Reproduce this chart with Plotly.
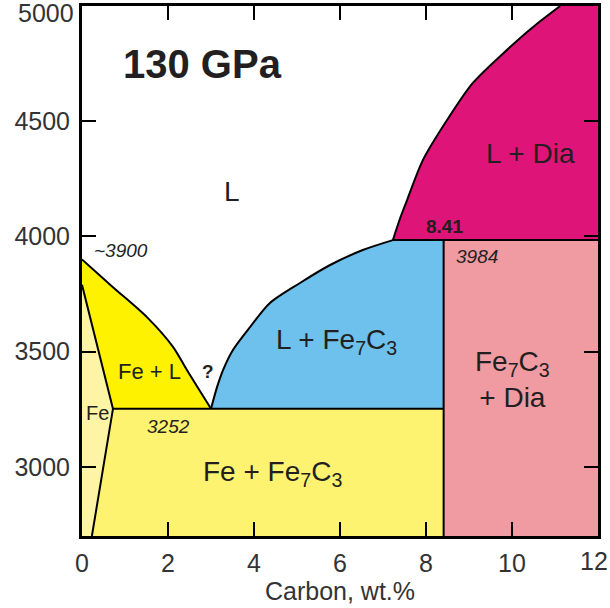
import plotly.graph_objects as go

# --- phase-diagram values (Fe–C at 130 GPa) ---
T_MELT_FE = 3900          # melting point of pure Fe, K
T_EUTECTIC = 3252         # Fe–Fe7C3 eutectic, K
X_EUTECTIC = 3.0          # eutectic composition, wt.% C
T_PERITECTIC = 3984       # Fe7C3 incongruent melting, K
X_FE7C3 = 8.41            # Fe7C3 composition, wt.% C
X_MAX_FE = 0.72           # max C solubility in solid Fe at eutectic, wt.%
T_SOLIDUS_FE0 = 3790      # solidus temperature at pure Fe end, K
X_FE_BOTTOM = 0.23        # C solubility in Fe at the lowest temperature, wt.%

X_RANGE = [0, 12]
T_RANGE = [2700, 5000]

# Liquidus on the Fe-rich side (L / Fe + L)
liq_fe_x = [0.0, 0.72, 1.51, 2.12, 2.44, X_EUTECTIC]
liq_fe_t = [T_MELT_FE, 3780, 3650, 3520, 3420, T_EUTECTIC]

# Liquidus of Fe7C3 (L / L + Fe7C3)
liq_c_x = [X_EUTECTIC, 3.14, 3.28, 3.51, 3.91, 4.37, 5.07, 5.77, 6.53, 7.23]
liq_c_t = [T_EUTECTIC, 3346, 3420, 3507, 3607, 3711, 3798, 3876, 3941, T_PERITECTIC]

# Liquidus of diamond (L / L + Dia)
liq_dia_x = [7.23, 7.40, 7.56, 7.93, 8.49, 9.09, 9.88, 10.49, 11.12]
liq_dia_t = [T_PERITECTIC, 4080, 4158, 4332, 4505, 4666, 4809, 4909, 5000]

x_ticks = [0, 2, 4, 6, 8, 10, 12]
t_ticks = [3000, 3500, 4000, 4500, 5000]

# Field colours
C_FE = "#FEF4A6"
C_FE_L = "#FFF200"
C_FE_FE7C3 = "#FEF371"
C_L_FE7C3 = "#6DC1EC"
C_FE7C3_DIA = "#EF9BA1"
C_L_DIA = "#DF1479"

INK = "#231F20"
TICK_INK = "#333333"
LINE = dict(color="black", width=2)

x0, x1 = X_RANGE
t0, t1 = T_RANGE

fields = [
    # Fe (solid solution)
    ([x0, X_FE_BOTTOM, X_MAX_FE, x0],
     [t0, t0, T_EUTECTIC, T_SOLIDUS_FE0], C_FE),
    # Fe + L
    ([x0, X_MAX_FE] + liq_fe_x[::-1],
     [T_SOLIDUS_FE0, T_EUTECTIC] + liq_fe_t[::-1], C_FE_L),
    # Fe + Fe7C3
    ([X_FE_BOTTOM, X_FE7C3, X_FE7C3, X_MAX_FE],
     [t0, t0, T_EUTECTIC, T_EUTECTIC], C_FE_FE7C3),
    # L + Fe7C3
    (liq_c_x + [X_FE7C3, X_FE7C3],
     liq_c_t + [T_PERITECTIC, T_EUTECTIC], C_L_FE7C3),
    # Fe7C3 + Dia
    ([X_FE7C3, x1, x1, X_FE7C3],
     [t0, t0, T_PERITECTIC, T_PERITECTIC], C_FE7C3_DIA),
    # L + Dia
    (liq_dia_x + [x1, x1],
     liq_dia_t + [t1, T_PERITECTIC], C_L_DIA),
]

fig = go.Figure()
for xs, ts, col in fields:
    fig.add_trace(go.Scatter(
        x=xs + [xs[0]], y=ts + [ts[0]], mode="lines", fill="toself",
        fillcolor=col, line=dict(width=0), hoverinfo="skip", showlegend=False))

# Phase boundaries: smooth liquidus curves and straight solid-state lines
curves = [(liq_fe_x, liq_fe_t), (liq_c_x, liq_c_t), (liq_dia_x, liq_dia_t)]
for xs, ts in curves:
    fig.add_trace(go.Scatter(
        x=xs, y=ts, mode="lines", line=dict(LINE, shape="spline", smoothing=0.8),
        hoverinfo="skip", showlegend=False))

straight = [
    ([x0, X_MAX_FE, X_FE_BOTTOM], [T_SOLIDUS_FE0, T_EUTECTIC, t0]),
    ([X_MAX_FE, X_FE7C3], [T_EUTECTIC, T_EUTECTIC]),
    ([X_FE7C3, X_FE7C3], [t0, T_PERITECTIC]),
    ([liq_c_x[-1], x1], [T_PERITECTIC, T_PERITECTIC]),
]
for xs, ts in straight:
    fig.add_trace(go.Scatter(
        x=xs, y=ts, mode="lines", line=LINE,
        hoverinfo="skip", showlegend=False))

FONT = "Liberation Sans, Arial, sans-serif"


def label(x, y, text, size, bold=False, italic=False):
    if bold:
        text = f"<b>{text}</b>"
    if italic:
        text = f"<i>{text}</i>"
    fig.add_annotation(x=x, y=y, text=text, showarrow=False,
                       xanchor="center", yanchor="middle",
                       font=dict(family=FONT, size=size, color=INK))


label(2.81, 4748, "130 GPa", 40, bold=True)
label(3.49, 4197, "L", 28)
label(10.44, 4358, "L + Dia", 28)
label(8.44, 4045, f"{X_FE7C3}", 19, bold=True)
label(9.19, 3911, f"{T_PERITECTIC}", 19, italic=True)
label(0.91, 3937, f"~{T_MELT_FE}", 19, italic=True)
label(1.56, 3416, "Fe + L", 22)
label(2.93, 3416, "?", 19, bold=True)
label(0.37, 3234, "Fe", 20)
label(2.0, 3177, f"{T_EUTECTIC}", 19, italic=True)
label(5.93, 3545, "L + Fe<sub>7</sub>C<sub>3</sub>", 28)
label(4.42, 2972, "Fe + Fe<sub>7</sub>C<sub>3</sub>", 28)
label(10.02, 3378, "Fe<sub>7</sub>C<sub>3</sub><br>+ Dia", 28)

TICK_FONT = dict(family=FONT, size=25, color=TICK_INK)

axis_common = dict(
    showgrid=False, zeroline=False, showline=True, linecolor="black",
    linewidth=3, mirror="ticks", ticks="inside", ticklen=14, tickwidth=2,
    tickcolor="black", ticklabeloverflow="allow", tickfont=TICK_FONT,
)

# The end labels at the page edges are nudged inward so they stay on the page
t_ticktext = [str(t) for t in t_ticks[:-1]] + [""]
fig.add_annotation(xref="paper", x=0, y=t_ticks[-1], text=str(t_ticks[-1]),
                   showarrow=False, xanchor="right", yanchor="middle",
                   xshift=-6, yshift=-7, font=TICK_FONT)

x_ticktext = [str(v) for v in x_ticks[:-1]] + [""]
fig.add_annotation(x=x_ticks[-1], yref="paper", y=0, text=str(x_ticks[-1]),
                   showarrow=False, xanchor="right", yanchor="top",
                   xshift=12, yshift=-9, font=TICK_FONT)

fig.update_xaxes(range=X_RANGE, tickvals=x_ticks, ticktext=x_ticktext,
                 ticklabelstandoff=3,
                 title=dict(text="Carbon, wt.%", standoff=1,
                            font=dict(family=FONT, size=25, color=TICK_INK)),
                 **axis_common)
fig.update_yaxes(range=T_RANGE, tickvals=t_ticks, ticktext=t_ticktext,
                 ticklabelstandoff=4, **axis_common)

fig.update_layout(
    width=610, height=608,
    margin=dict(l=82, r=12, t=6, b=72, autoexpand=False),
    paper_bgcolor="white", plot_bgcolor="white",
)

fig.write_html("out.html")
